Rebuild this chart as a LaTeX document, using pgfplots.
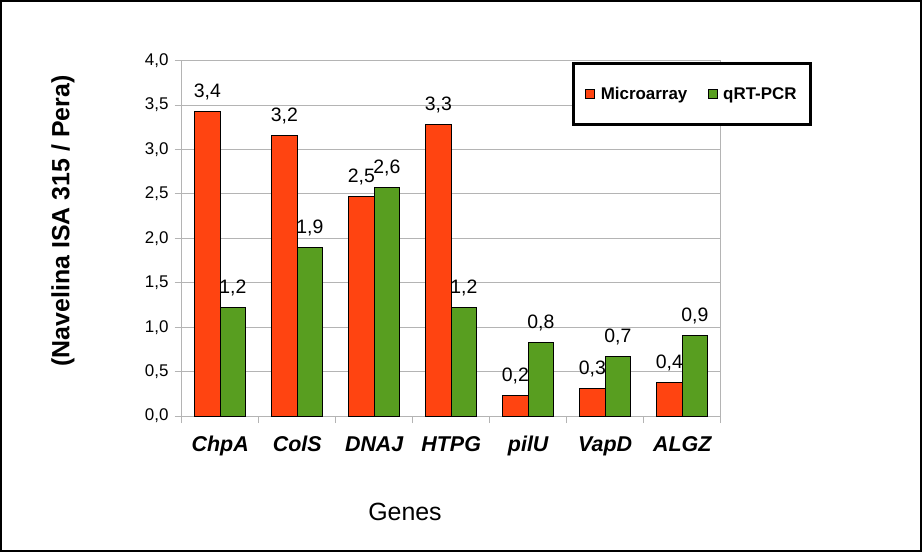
\documentclass[border=0pt]{standalone}
\usepackage{pgfplots}
\pgfplotsset{compat=1.18}
\usepackage{fontspec}
\setmainfont{Liberation Sans}
\definecolor{barred}{RGB}{255,68,17}
\definecolor{bargreen}{RGB}{88,158,32}
\definecolor{gridgray}{RGB}{180,180,180}
\begin{document}
\begin{tikzpicture}
\useasboundingbox (-181.7bp,-136bp) rectangle (742.3bp,416bp);
\draw[line width=2bp] (-180.7bp,-135bp) rectangle (739.5bp,415bp);
\begin{axis}[
  at={(0,0)}, anchor=south west,
  scale only axis,
  width=539bp, height=355.3bp,
  ymin=0, ymax=4, ytick={0,0.5,...,4},
  xmin=-0.5, xmax=6.5,
  xtick={0,...,6},
  xticklabels={ChpA,ColS,DNAJ,HTPG,pilU,VapD,ALGZ},
  minor xtick={-0.5,0.5,...,6.5},
  major x tick style={draw=none},
  minor tick length=7bp,
  major tick length=7bp,
  tick align=outside,
  tick style={gridgray, line width=1bp},
  xtick pos=bottom, ytick pos=left,
  axis line style={gridgray, line width=1bp},
  ymajorgrids, grid style={gridgray, line width=1bp},
  /pgf/number format/assume math mode=true,
  yticklabel={\pgfmathprintnumber[fixed,fixed zerofill,precision=1,use comma]{\tick}},
  yticklabel style={font=\fontsize{17}{20}\selectfont, anchor=east, inner sep=0pt, xshift=-6bp},
  xticklabel style={font=\fontsize{21.5}{25}\selectfont\bfseries\itshape, anchor=base, inner sep=0pt, yshift=-28bp},
  ybar=0pt, bar width=25.5bp,
  every axis plot/.append style={draw=black, line width=0.8bp},
  nodes near coords={\pgfmathprintnumber[fixed,precision=1,use comma]{\pgfplotspointmeta}},
  nodes near coords style={font=\fontsize{19.5}{23}\selectfont, anchor=base, inner sep=0pt, yshift=14bp, text=black},
  xlabel={Genes},
  xlabel style={font=\fontsize{25}{30}\selectfont, at={(axis description cs:0.4143,-0.2694)}, anchor=center},
  ylabel={(Navelina ISA 315 / Pera)},
  ylabel style={font=\fontsize{25}{30}\selectfont\bfseries, at={(axis description cs:-0.2202,0.549)}, anchor=center, rotate=0},
  legend columns=2,
  legend style={at={(axis description cs:0.7241,0.9963)}, anchor=north west,
    draw=black, line width=3bp, inner xsep=12bp, inner ysep=22bp,
    font=\fontsize{17}{20}\selectfont\bfseries,
    /tikz/every odd column/.append style={column sep=4bp},
    /tikz/every even column/.append style={column sep=19bp},
    nodes={inner sep=1.5bp}},
  legend image code/.code={\draw[#1, line width=0.8bp] (0bp,-4.5bp) rectangle (9bp,4.5bp);},
]
\addplot[fill=barred] coordinates {(0,3.43) (1,3.16) (2,2.47) (3,3.28) (4,0.235) (5,0.31) (6,0.38)};
\addplot[fill=bargreen] coordinates {(0,1.225) (1,1.90) (2,2.575) (3,1.22) (4,0.83) (5,0.67) (6,0.907)};
\legend{Microarray, qRT-PCR}
\end{axis}
\end{tikzpicture}
\end{document}
